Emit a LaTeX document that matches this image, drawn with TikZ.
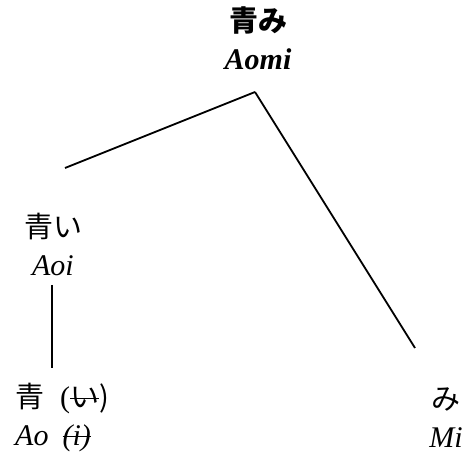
\documentclass[tikz,border=0pt]{standalone}
\usepackage{fontspec}
\setmainfont{Liberation Serif}
\newfontfamily\jpfont{Noto Sans CJK JP}
\newcommand\jp{\fontsize{29}{38}\selectfont\jpfont}
\usepackage{tikz}
\newlength\strkw
\newcommand\strk[1]{\settowidth\strkw{#1}\rlap{\rule[0.3em]{\strkw}{1.2pt}}#1}

\begin{document}
\begin{tikzpicture}[
    x=1pt, y=-1pt,
    word/.style={inner sep=0pt, align=center, font=\fontsize{30}{38}\selectfont},
    branch/.style={line width=1.8pt, color=black}
  ]
    \useasboundingbox (0,0) rectangle (472,454);

    % words
    \node[word] (aomi) at (258,38) {{\jp\bfseries 青み}\\\textbf{\textit{Aomi}}};
    \node[word] (aoi)  at (53,244) {{\jp 青い}\\\textit{Aoi}};
    \node[word, align=left, anchor=west] (ao) at (15,418)
      {{\jp 青}\hspace{16pt}(\strk{\jp い})\\\textit{Ao}\hspace{14pt}\strk{\textit{(i)}}};
    \node[word] (mi)   at (446,418) {{\jp み}\\\textit{Mi}};

    % branch points
    \coordinate (top)   at (255,92);
    \coordinate (left)  at (65,168);
    \coordinate (right) at (415,348);
    \coordinate (up)    at (52,285);
    \coordinate (down)  at (52,368);

    \draw[branch] (top) -- (left);
    \draw[branch] (top) -- (right);
    \draw[branch] (up)  -- (down);
  \end{tikzpicture}
\end{document}
